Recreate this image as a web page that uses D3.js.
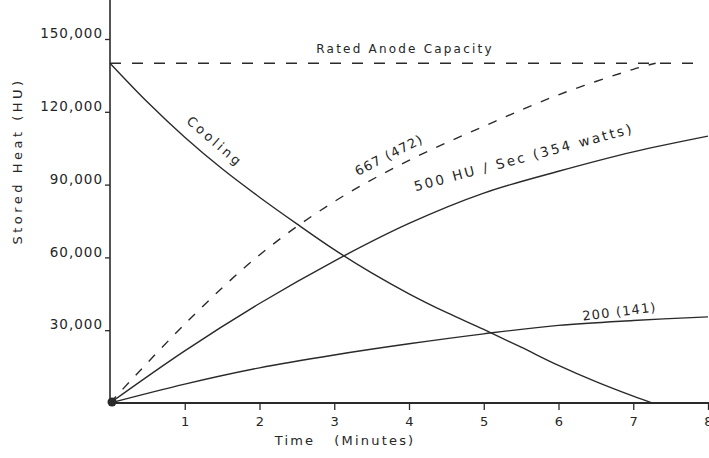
<!DOCTYPE html>
<html><head><meta charset="utf-8">
<script src="https://cdn.jsdelivr.net/npm/d3@7"></script>
<style>
body{margin:0;background:#fff}
text{font-family:"DejaVu Sans",sans-serif;fill:#262626}
</style>
</head><body><svg id="c" width="709" height="458"></svg>
<script>
// ---- data ----
const xTicks = [1,2,3,4,5,6,7,8];
const yTicks = [30000,60000,90000,120000,150000];
const ratedCapacity = 140000;
const coolingT = [0,0.5,1,1.5,2,2.5,3,3.5,4,4.5,5,5.5,6,6.5,7,7.25];
const coolingV = [140000,124000,109500,96500,84800,73800,63200,53600,45000,37300,30300,23000,15500,8800,2800,0];
const hu500T = [0,1,2,3,4,5,6,7,8];
const hu500V = [0,21500,41000,58500,74000,86500,95500,103500,110000];
const hu667T = [0,1,2,3,4,5,6,7,7.3];
const hu667V = [0,32500,61000,83000,100000,114000,127000,137500,140000];
const hu200T = [0,1,2,3,4,5,6,7,8];
const hu200V = [0,7800,14500,19800,24400,28500,32000,34000,35500];

const svg = d3.select("#c");
const x = d3.scaleLinear().domain([0,8]).range([110,708]);
const y = d3.scaleLinear().domain([0,150000]).range([403,39]);
const ink = "#2a2a2a";

// axes
const xa = svg.append("g").attr("transform",`translate(0,${y(0)})`)
  .call(d3.axisBottom(x).tickValues(xTicks).tickSize(7).tickPadding(7).tickFormat(d3.format("d")));
xa.select(".domain").remove();
xa.selectAll("line").attr("stroke",ink).attr("stroke-width",1.3);
xa.selectAll("text").attr("font-size",13).attr("font-family","DejaVu Sans");
svg.append("line").attr("x1",x(0)).attr("x2",709).attr("y1",y(0)).attr("y2",y(0))
  .attr("stroke",ink).attr("stroke-width",1.8);

const ya = svg.append("g").attr("transform",`translate(${x(0)},0)`)
  .call(d3.axisLeft(y).tickValues(yTicks).tickSize(5).tickPadding(2).tickFormat(d3.format(",")));
ya.select(".domain").remove();
ya.selectAll("line").attr("stroke",ink).attr("stroke-width",1.3);
ya.selectAll("text").attr("font-size",13.5).attr("font-family","DejaVu Sans").attr("letter-spacing",1).attr("dy","-0.1em");
svg.append("line").attr("x1",x(0)).attr("x2",x(0)).attr("y1",0).attr("y2",y(0))
  .attr("stroke",ink).attr("stroke-width",1.6);

// rated capacity
svg.append("line").attr("x1",x(0)).attr("x2",700).attr("y1",y(ratedCapacity)).attr("y2",y(ratedCapacity))
  .attr("stroke",ink).attr("stroke-width",1.5).attr("stroke-dasharray","11,11");

const line = d3.line().x(d=>x(d[0])).y(d=>y(d[1])).curve(d3.curveCatmullRom.alpha(0.5));
function series(T,V,dash){
  svg.append("path").datum(T.map((t,i)=>[t,V[i]])).attr("d",line)
    .attr("fill","none").attr("stroke",ink).attr("stroke-width",1.4)
    .attr("stroke-dasharray",dash||null);
}
series(coolingT,coolingV);
series(hu500T,hu500V);
series(hu200T,hu200V);
series(hu667T,hu667V,"9,10");

svg.append("circle").attr("cx",x(0)+2).attr("cy",y(0)-1).attr("r",4.5).attr("fill",ink);

// labels
function lab(txt,px,py,ang,size,ls){
  return svg.append("text").attr("transform",`translate(${px},${py}) rotate(${ang})`)
    .attr("text-anchor","middle").attr("font-size",size).attr("letter-spacing",ls)
    .style("white-space","pre").text(txt);
}
lab("Rated Anode Capacity",405,53,0,12,2.2);
lab("Cooling",212,145,41,13,3);
lab("667 (472)",391,159,-27,13,1.2);
lab("500 HU / Sec (354 watts)",525,162,-15,13.5,2.4);
lab("200 (141)",620,316,-7,13,1.2);
lab("Time   (Minutes)",345,445,0,13,2.2);
lab("Stored Heat (HU)",22,161,-90,13,3.5);
</script></body></html>
